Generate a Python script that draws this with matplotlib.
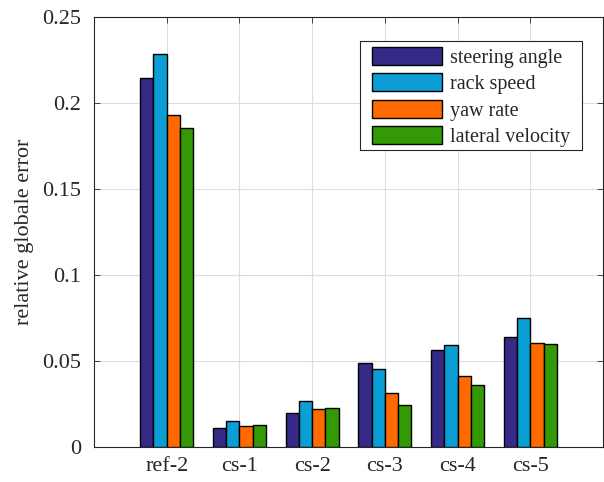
import numpy as np
import matplotlib
matplotlib.use('Agg')
import matplotlib.pyplot as plt
from matplotlib.patches import Rectangle

plt.rcParams['font.family'] = ['Liberation Serif', 'DejaVu Serif']

cases = ['ref-2', 'cs-1', 'cs-2', 'cs-3', 'cs-4', 'cs-5']
series = ['steering angle', 'rack speed', 'yaw rate', 'lateral velocity']
steering = [0.2147, 0.0112, 0.0195, 0.0490, 0.0564, 0.0637]
rack = [0.2283, 0.0150, 0.0267, 0.0455, 0.0591, 0.0750]
yaw = [0.1928, 0.0121, 0.0219, 0.0313, 0.0413, 0.0603]
lateral = [0.1857, 0.0127, 0.0225, 0.0245, 0.0359, 0.0598]
colors = ['#352A87', '#0A9ED4', '#FF6A00', '#339A06']
ink = '#262626'

fig = plt.figure(figsize=(6.04, 4.82), dpi=100)
ax = fig.add_axes([94 / 604, 35 / 482, 509 / 604, 430 / 482])

x = np.arange(1, len(cases) + 1)
w = 0.183
for i, (vals, name) in enumerate(zip([steering, rack, yaw, lateral], series)):
    ax.bar(x + (i - 1.5) * w, vals, width=w, color=colors[i],
           edgecolor='black', linewidth=1.0, label=name, zorder=3)

ax.set_xlim(0, 7)
ax.set_ylim(0, 0.25)
ax.set_xticks(x)
ax.set_xticklabels(cases)
ax.set_yticks([0, 0.05, 0.1, 0.15, 0.2, 0.25])
ax.set_yticklabels(['0', '0.05', '0.1', '0.15', '0.2', '0.25'])
ax.tick_params(direction='in', labelsize=16, length=4, width=0.6,
               right=True, top=True, color=ink, labelcolor=ink)
ax.tick_params(axis='y', pad=9)
ax.tick_params(axis='x', pad=7)
ax.grid(True, color='#dddddd', linewidth=0.8, zorder=0)
for s in ax.spines.values():
    s.set_linewidth(0.8)
    s.set_color(ink)
ax.set_ylabel('relative globale error', fontsize=16, labelpad=6, color=ink)

# legend box drawn separately so the side padding can be wider than the top/bottom
ax.add_patch(Rectangle((0.5226, 0.6907), 0.4361, 0.2535, transform=ax.transAxes,
                       facecolor='white', edgecolor=ink, linewidth=0.8, zorder=4))
leg = ax.legend(loc='upper left', bbox_to_anchor=(0.546, 0.930),
                borderaxespad=0, borderpad=0, fontsize=14.5,
                handlelength=3.5, handleheight=1.0, frameon=False,
                labelspacing=0.27, handletextpad=0.4)
leg.set_zorder(5)
for t in leg.get_texts():
    t.set_color(ink)

fig.savefig('out.png', dpi=100)
